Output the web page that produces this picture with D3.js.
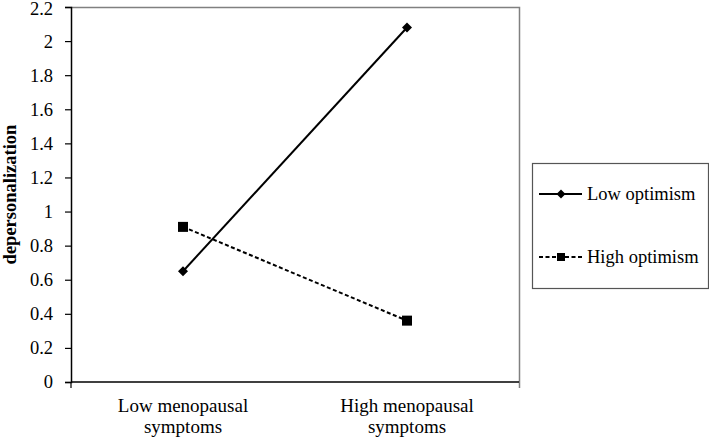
<!DOCTYPE html>
<html>
<head>
<meta charset="utf-8">
<script src="https://cdn.jsdelivr.net/npm/d3@7"></script>
<style>
  html, body { margin: 0; padding: 0; background: #fff; }
  svg { display: block; font-family: "Liberation Serif", "Times New Roman", serif; }
</style>
</head>
<body>
<svg id="chart" width="709" height="440"></svg>
<script>
const categories = [["Low menopausal", "symptoms"], ["High menopausal", "symptoms"]];
const categoryKeys = ["low", "high"];
const seriesNames = ["Low optimism", "High optimism"];
const lowOptimism = [0.65, 2.08];
const highOptimism = [0.91, 0.36];
const yTicks = [0, 0.2, 0.4, 0.6, 0.8, 1, 1.2, 1.4, 1.6, 1.8, 2, 2.2];
const yTitle = "depersonalization";

const series = [
  { name: seriesNames[0], values: lowOptimism, dash: null, marker: "diamond" },
  { name: seriesNames[1], values: highOptimism, dash: "4,2.5", marker: "square" }
];

const svg = d3.select("#chart");
const plot = { left: 71, right: 519, top: 7, bottom: 382 };

const x = d3.scaleBand().domain(categoryKeys).range([plot.left, plot.right]);
const y = d3.scaleLinear().domain([0, 2.2]).range([plot.bottom, plot.top]);

// frame (top and right, gray)
svg.append("path")
  .attr("d", `M${plot.left},${plot.top + 0.5}H${plot.right + 0.5}V${plot.bottom + 6}`)
  .attr("fill", "none").attr("stroke", "#808080").attr("stroke-width", 1.5);

// y axis
const yAxis = d3.axisLeft(y).tickValues(yTicks).tickSize(6).tickPadding(12)
  .tickFormat(d => d3.format("")(+d.toFixed(1)));
const gy = svg.append("g").attr("transform", `translate(${plot.left},0)`).call(yAxis);
gy.select(".domain").attr("stroke", "#000").attr("stroke-width", 1.5);
gy.selectAll(".tick line").attr("stroke", "#000").attr("stroke-width", 1.2);
gy.selectAll(".tick text").attr("font-size", 18.5).attr("fill", "#000")
  .attr("font-family", "Liberation Serif, Times New Roman, serif")
  .attr("dy", d => d === yTicks[yTicks.length - 1] ? "0.4em" : "0.32em");

// x axis
const gx = svg.append("g").attr("transform", `translate(0,${plot.bottom})`);
gx.append("line").attr("x1", plot.left).attr("x2", plot.right)
  .attr("stroke", "#000").attr("stroke-width", 1.5);
gx.append("line").attr("x1", plot.left).attr("x2", plot.left).attr("y1", 0).attr("y2", 6)
  .attr("stroke", "#000").attr("stroke-width", 1.2);
categoryKeys.forEach((k, i) => {
  const t = gx.append("text")
    .attr("x", x(k) + x.bandwidth() / 2)
    .attr("y", 30)
    .attr("text-anchor", "middle")
    .attr("font-size", 19)
    .attr("fill", "#000");
  categories[i].forEach((line, j) => {
    t.append("tspan").attr("x", x(k) + x.bandwidth() / 2).attr("dy", j === 0 ? 0 : 21).text(line);
  });
});

// y title
svg.append("text")
  .attr("transform", `translate(16,${(plot.top + plot.bottom) / 2}) rotate(-90)`)
  .attr("text-anchor", "middle")
  .attr("font-size", 18.5)
  .attr("font-weight", "bold")
  .attr("fill", "#000")
  .text(yTitle);

function drawMarker(g, type, cx, cy, s) {
  if (type === "diamond") {
    const r = s / 2;
    g.append("path")
      .attr("d", `M${cx},${cy - r}L${cx + r},${cy}L${cx},${cy + r}L${cx - r},${cy}Z`)
      .attr("fill", "#000");
  } else {
    g.append("rect").attr("x", cx - s / 2).attr("y", cy - s / 2).attr("width", s).attr("height", s)
      .attr("fill", "#000");
  }
}

const line = d3.line().x((d, i) => x(categoryKeys[i]) + x.bandwidth() / 2).y(d => y(d));

series.forEach(s => {
  const g = svg.append("g");
  g.append("path").datum(s.values).attr("d", line)
    .attr("fill", "none").attr("stroke", "#000").attr("stroke-width", 2)
    .attr("stroke-dasharray", s.dash);
  s.values.forEach((v, i) => drawMarker(g, s.marker, x(categoryKeys[i]) + x.bandwidth() / 2, y(v), 10));
});

// legend
const leg = { x: 532, y: 163, w: 176, h: 125 };
svg.append("rect").attr("x", leg.x + 0.5).attr("y", leg.y + 0.5).attr("width", leg.w).attr("height", leg.h)
  .attr("fill", "#fff").attr("stroke", "#555").attr("stroke-width", 1.2);
const rowY = [194, 257];
series.forEach((s, i) => {
  const g = svg.append("g");
  g.append("line").attr("x1", 539).attr("x2", 582).attr("y1", rowY[i]).attr("y2", rowY[i])
    .attr("stroke", "#000").attr("stroke-width", 2).attr("stroke-dasharray", s.dash);
  drawMarker(g, s.marker, 561, rowY[i], s.marker === "diamond" ? 9 : 8);
  g.append("text").attr("x", 587).attr("y", rowY[i]).attr("dy", "0.32em")
    .attr("font-size", 18.5).attr("fill", "#000").text(s.name);
});
</script>
</body>
</html>
